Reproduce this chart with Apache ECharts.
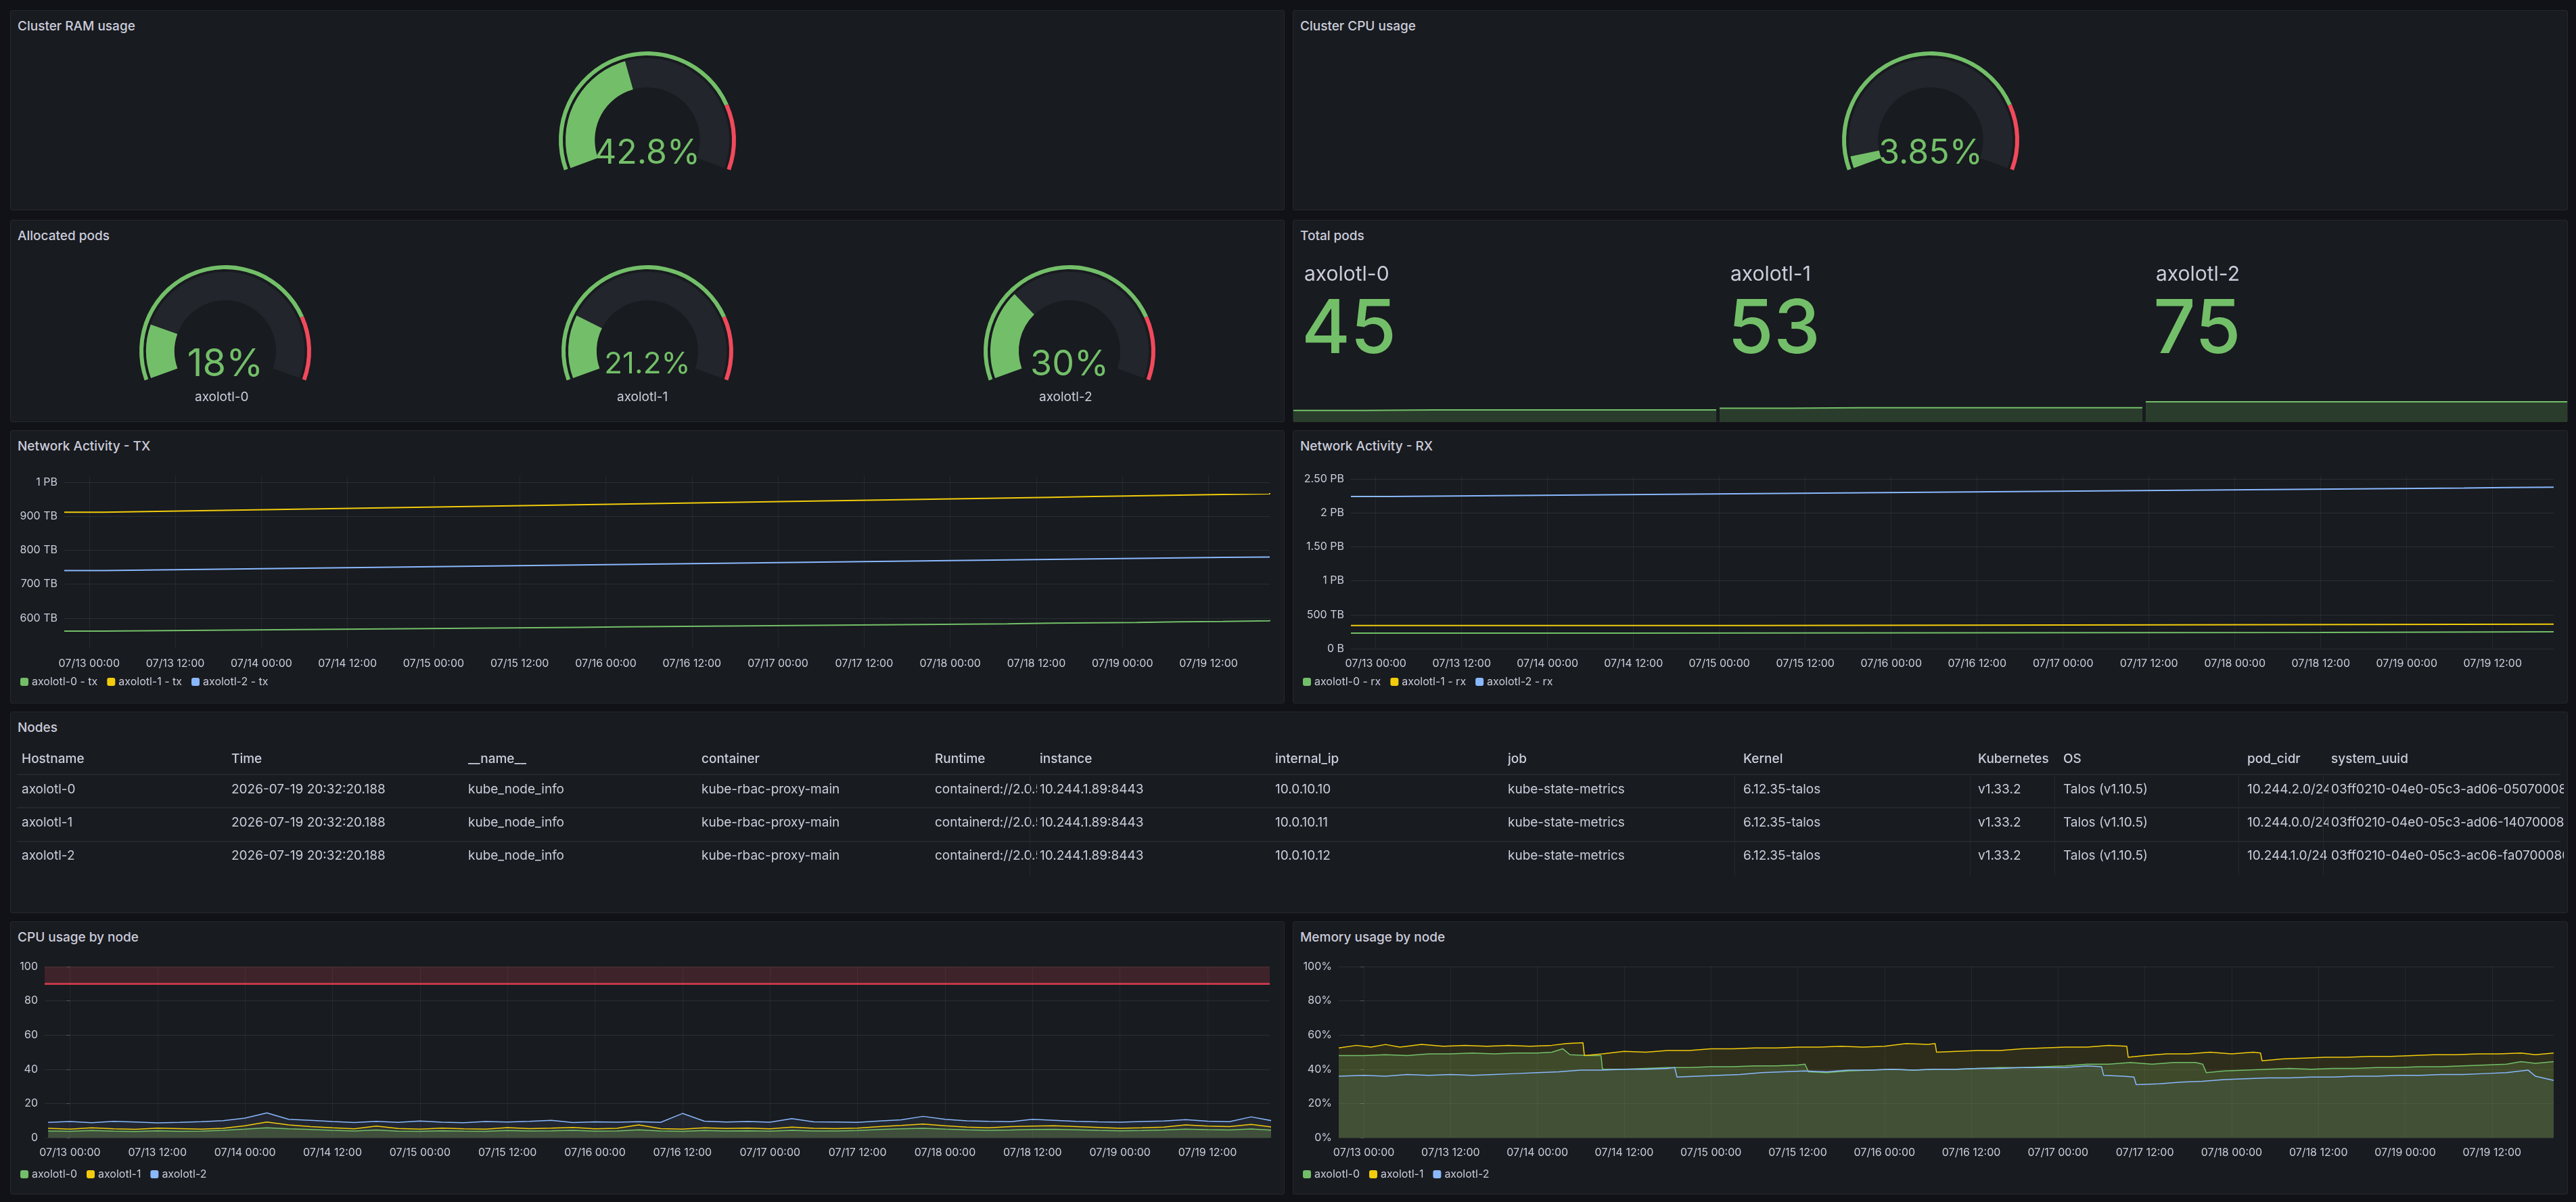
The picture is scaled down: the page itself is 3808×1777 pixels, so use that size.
<!DOCTYPE html>
<html><head><meta charset="utf-8">
<script src="https://cdn.jsdelivr.net/npm/echarts@6/dist/echarts.min.js"></script>
<style>
html,body{margin:0;padding:0;background:#111217;width:3808px;height:1777px;overflow:hidden;font-family:Inter,"Noto Sans",sans-serif;color:#ccccdc}
.panel{position:absolute;background:#181b1f;border:1px solid #24272e;border-radius:3px;box-sizing:border-box}
.title{position:absolute;left:10px;top:11px;font-size:19px;font-weight:500;color:#ccccdc}
#chart{position:absolute;left:0;top:0;width:3808px;height:1777px;z-index:2}
.cell{position:absolute;font-size:19px;white-space:nowrap;overflow:hidden;color:#ccccdc;z-index:3}
.hd{font-weight:500}
.hline{position:absolute;height:2px;background:#24272e;z-index:3}
.vline{position:absolute;width:1px;background:#24272e;z-index:3}
</style></head><body>
<div id="panels"></div>
<div id="chart"></div>
<script>
// ---------- data ----------
const gaugeCluster = [{name:'Cluster RAM usage', value:42.8}, {name:'Cluster CPU usage', value:3.85}];
const nodes = ['axolotl-0','axolotl-1','axolotl-2'];
const allocPods = [18, 21.2, 30];
const totalPods = [45, 53, 75];
const podsSpark0 = [43,45,45,45,45,45,45];
const podsSpark1 = [51,53,53,53,53,53,53];
const podsSpark2 = [75,75,75,75,75,75,74];
const netHours = [-3.47,2,8,14,20,26,32,38,44,50,56,62,68,74,80,86,92,98,104,110,116,122,128,134,140,146,152,158,164.53];
const tx0 = [562,563,564,565,566,567,568,569,570,571,572,573,574,575,576,577,578,579,580,581,582,583,585,586,587,589,590,592,594];
const tx1 = [912,914,916,918,920,922,924,926,928,930,932,934,936,938,940,942,944,946,948,950,952,954,956,958,960,962,964,966,968];
const tx2 = [740,741.5,743,744.5,746,747.5,749,750.5,752,753.5,755,756.5,758,759.5,761,762.5,764,765.5,767,768.5,770,771.5,773,774.5,776,777.5,779,780,781];
const rx2 = [2240,2245,2250,2255,2260,2265,2270,2275,2280,2285,2290,2295,2300,2305,2310,2315,2320,2325,2330,2335,2340,2345,2350,2355,2360,2365,2372,2378,2385];
const rx1 = [[-3.47,342],[51.8,342],[51.8,352],[111,352],[111,362],[164.53,362]];
const rx0 = [[-3.47,230],[34.9,230],[34.9,240],[132,240],[132,250],[164.53,250]];
const txTicks = [600,700,800,900,1000];
const timeTicks = [0,12,24,36,48,60,72,84,96,108,120,132,144,156];
const cpuHours = Array.from({length:57},(_,i)=>-3+3*i);
const cpu0 = [4.0,3.8,4.2,3.9,3.7,4.1,3.8,3.9,4.3,5.0,5.8,5.2,4.8,4.3,4.0,4.5,3.9,3.8,4.1,3.9,3.8,4.2,4.0,4.1,4.3,3.9,4.0,4.6,4.0,3.8,4.2,4.0,4.1,3.9,4.3,4.0,4.0,4.2,4.8,5.2,5.5,5.0,4.6,4.3,4.5,4.8,4.9,4.6,4.3,4.1,4.2,4.5,5.0,4.7,4.5,5.1,4.4];
const cpu1 = [5.5,5.0,5.8,5.2,4.9,5.6,5.3,5.0,5.5,7.0,9.2,7.5,6.5,5.8,5.2,6.8,5.4,5.0,5.6,5.2,5.0,5.9,5.3,5.6,6.0,5.2,5.5,7.5,5.3,5.0,5.8,5.4,5.6,5.2,6.2,5.5,5.3,5.6,6.5,7.2,8.0,7.0,6.2,5.8,6.5,6.8,7.0,6.5,6.0,5.5,5.8,6.2,7.5,6.8,6.5,7.8,6.2];
const cpu2 = [9.0,9.5,8.8,9.6,9.2,8.7,9.0,9.4,10.0,11.5,14.5,10.8,10.2,9.5,8.9,9.6,9.0,9.8,9.1,8.8,9.5,9.2,9.6,10.2,8.9,9.3,9.1,9.4,9.0,14.2,9.7,9.2,9.5,9.1,11.2,9.3,9.2,9.0,9.8,10.5,12.5,10.8,9.9,9.6,9.4,10.8,10.2,9.6,9.3,9.1,9.5,9.8,10.6,9.7,9.4,12.2,9.8];
const mem1 = [[-3.47,52.5],[-1,54],[1,53],[3,54.5],[5,53],[8,54.5],[11,53.5],[14,54],[17,53.5],[20,54],[23,53.5],[26,54],[28,55],[30.3,55.5],[30.5,48],[33,49],[36,50.5],[39,50],[42,51],[45,51],[48,52],[51,52],[54,52.5],[57,52.5],[60,53],[63,53],[66,53.5],[69,53],[72,53.5],[75,55],[78,54.5],[79,55],[79.2,50],[82,50.5],[85,51],[88,51],[91,52],[94,52.5],[97,53],[100,53],[103,54],[105.5,53.5],[105.7,47],[108,48],[111,49],[114,49],[117,50],[120,49],[123,50],[124,49.5],[124.2,45],[127,46],[130,46.5],[133,47],[136,47],[139,47.5],[142,47.5],[145,48],[148,48.5],[151,48.5],[154,49],[157,49],[160,49.5],[162,48.5],[164.53,49.5]];
const mem0 = [[-3.47,48],[0,48],[3,48.5],[6,48],[9,49],[12,49],[15,49.5],[18,49],[21,49.5],[24,49.5],[26,50],[27.5,52],[28.5,48.5],[31,48],[32.8,48],[33,40],[36,40],[39,40.5],[42,41],[45,41],[48,41.5],[51,41.5],[54,42],[57,42],[60,42.5],[61,43],[61.5,38.5],[64,38],[67,39],[70,39.5],[73,40],[76,39.5],[79,40],[82,40],[85,40.5],[88,41],[91,41],[94,41.5],[97,42],[100,43],[103,43],[106,44],[109,43],[112,44],[115,44],[116,43],[116.5,38],[119,39],[122,39.5],[125,40],[128,40.5],[131,40],[134,40.5],[137,40.5],[140,41],[143,41],[146,41.5],[149,41.5],[152,42],[155,42.5],[158,43],[160,44.5],[162,43.5],[164.53,44.5]];
const mem2 = [[-3.47,36],[0,36.5],[3,36],[6,37],[9,36.5],[12,37],[15,36.5],[18,37],[21,37.5],[24,38],[27,38.5],[30,39.5],[33,39.5],[36,40],[39,40],[42,40.5],[43,41],[43.3,35.5],[46,36],[49,36.5],[52,37],[55,38],[58,38.5],[61,39],[64,38.5],[67,39.5],[70,39.5],[73,40],[76,39.5],[79,40],[82,40],[85,40.5],[88,40.5],[91,41],[94,41],[97,41],[100,42],[102,41.5],[102.3,36.5],[105,36],[106.5,35.5],[106.8,31],[110,31.5],[113,32.5],[116,33],[119,34],[122,34.5],[125,35],[128,35],[131,35.5],[134,35.5],[137,36],[140,36],[143,36.5],[146,36.5],[149,37],[152,37],[155,37.5],[158,38],[161,39.5],[162,36],[164.53,33.5]];
const tableHeader = ['Hostname','Time','__name__','container','Runtime','instance','internal_ip','job','Kernel','Kubernetes','OS','pod_cidr','system_uuid'];
const tableRows = [
 ['axolotl-0','2026-07-19 20:32:20.188','kube_node_info','kube-rbac-proxy-main','containerd://2.0.5','10.244.1.89:8443','10.0.10.10','kube-state-metrics','6.12.35-talos','v1.33.2','Talos (v1.10.5)','10.244.2.0/24','03ff0210-04e0-05c3-ad06-050700080009'],
 ['axolotl-1','2026-07-19 20:32:20.188','kube_node_info','kube-rbac-proxy-main','containerd://2.0.5','10.244.1.89:8443','10.0.10.11','kube-state-metrics','6.12.35-talos','v1.33.2','Talos (v1.10.5)','10.244.0.0/24','03ff0210-04e0-05c3-ad06-140700080009'],
 ['axolotl-2','2026-07-19 20:32:20.188','kube_node_info','kube-rbac-proxy-main','containerd://2.0.5','10.244.1.89:8443','10.0.10.12','kube-state-metrics','6.12.35-talos','v1.33.2','Talos (v1.10.5)','10.244.1.0/24','03ff0210-04e0-05c3-ac06-fa0700080009']];

// ---------- layout ----------
const G='#73bf69', Y='#f2cc0c', B='#8ab8ff', R='#f2495c';
const panels = [
 ['Cluster RAM usage',15,15,1884,296],['Cluster CPU usage',1911,15,1885,296],
 ['Allocated pods',15,325,1884,299],['Total pods',1911,325,1885,299],
 ['Network Activity - TX',15,636,1884,404],['Network Activity - RX',1911,636,1885,404],
 ['Nodes',15,1052,3781,298],
 ['CPU usage by node',15,1362,1884,404],['Memory usage by node',1911,1362,1885,404]];
const pd=document.getElementById('panels');
panels.forEach(p=>{const d=document.createElement('div');d.className='panel';
 d.style.cssText=`left:${p[1]}px;top:${p[2]}px;width:${p[3]}px;height:${p[4]}px`;
 d.innerHTML=`<div class="title">${p[0]}</div>`;pd.appendChild(d);});
// table
const colX=[32,342,692,1037,1382,1537,1885,2229,2577,2924,3050,3322,3446,3794];
const rowY=[1110,1155,1204,1253];
function cell(t,x,y,w,cls){const d=document.createElement('div');d.className='cell '+(cls||'');
 d.style.cssText=`left:${x}px;top:${y}px;width:${w}px`;d.textContent=t;document.body.appendChild(d);}
tableHeader.forEach((h,i)=>cell(h,colX[i],rowY[0],colX[i+1]-colX[i]-6,'hd'));
tableRows.forEach((r,j)=>r.forEach((t,i)=>cell(t,colX[i],rowY[j+1],colX[i+1]-colX[i]-4)));
[1144,1193,1243].forEach(y=>{const d=document.createElement('div');d.className='hline';d.style.cssText=`left:25px;top:${y}px;width:3760px`;document.body.appendChild(d);});
[1528,2570,2918,3043,3315,3440].forEach(x=>{const d=document.createElement('div');d.className='vline';d.style.cssText=`left:${x-6}px;top:1146px;height:150px`;document.body.appendChild(d);});

// ---------- chart ----------
const chart=echarts.init(document.getElementById('chart'),null,{renderer:'canvas'});
const txt={color:'#ccccdc',fontSize:16,fontFamily:'Inter'};
function gauge(cx,cy,r,val,fs){
 return [{type:'gauge',center:[cx,cy],radius:r,startAngle:200,endAngle:-20,min:0,max:100,
   axisLine:{lineStyle:{width:6,color:[[0.8,G],[1,R]]}},pointer:{show:false},axisTick:{show:false},splitLine:{show:false},axisLabel:{show:false},detail:{show:false},title:{show:false},data:[{value:0}],silent:true},
  {type:'gauge',center:[cx,cy],radius:r-10,startAngle:200,endAngle:-20,min:0,max:100,
   axisLine:{lineStyle:{width:r*0.33,color:[[1,'#22252b']]}},progress:{show:true,width:r*0.33,itemStyle:{color:G}},
   pointer:{show:false},axisTick:{show:false},splitLine:{show:false},axisLabel:{show:false},title:{show:false},
   detail:{show:true,offsetCenter:[0,20],fontSize:fs,color:G,fontFamily:'Inter',fontWeight:400,formatter:v=>v+'%'},data:[{value:val}],silent:true}];
}
const fmtT=h=>{const d=13+Math.floor(h/24);return `07/${d} ${h%24===0?'00':'12'}:00`;};
function xAx(gi){return {type:'value',gridIndex:gi,min:-3.47,max:164.53,
 axisLine:{show:false},axisTick:{show:false,customValues:timeTicks},
 axisLabel:{customValues:timeTicks,formatter:fmtT,...txt,margin:14},
 splitLine:{show:true,lineStyle:{color:'rgba(204,204,220,0.07)'}}};}
function yAx(gi,o){return Object.assign({type:'value',gridIndex:gi,axisLine:{show:false},
 splitLine:{show:true,lineStyle:{color:'rgba(204,204,220,0.1)'}},axisLabel:{...txt,margin:10}},o);}
const zip=(h,v)=>v.map((y,i)=>[h[i],y]);
function ln(name,gi,data,color,extra){return Object.assign({type:'line',name,xAxisIndex:gi,yAxisIndex:gi,data,showSymbol:false,
 lineStyle:{width:2,color},itemStyle:{color},animation:false},extra||{});}
function leg(x,y,names){return {left:x,top:y,data:names,icon:'roundRect',itemWidth:12,itemHeight:12,itemGap:14,textStyle:{...txt,fontSize:16},padding:0,selectedMode:false};}

const series=[];
series.push(...gauge(957,207,131,gaugeCluster[0].value,50));
series.push(...gauge(2854,207,131,gaugeCluster[1].value,50));
[333,957,1581].forEach((x,i)=>series.push(...gauge(x,519,127,allocPods[i],[56,44,52][i])));

const grids=[{left:95,width:1782,top:703,height:256},{left:1997,width:1778,top:703,height:256},
 {left:66,width:1811,top:1429,height:253},{left:1979,width:1796,top:1429,height:253},
 {left:1912,width:625,top:560,height:64},{left:2542,width:625,top:560,height:64},{left:3172,width:623,top:560,height:64}];
const xAxis=[xAx(0),xAx(1),xAx(2),xAx(3)];
const yAxis=[
 yAx(0,{min:510,max:1020,axisTick:{show:false,customValues:txTicks},axisLabel:{...txt,margin:10,customValues:txTicks,formatter:v=>v>=1000?(v/1000)+' PB':v+' TB'}}),
 yAx(1,{min:0,max:2550,axisTick:{show:false,customValues:[0,500,1000,1500,2000,2500]},axisLabel:{...txt,margin:10,customValues:[0,500,1000,1500,2000,2500],formatter:v=>v===0?'0 B':v<1000?v+' TB':(v%1000===0?(v/1000):(v/1000).toFixed(2))+' PB'}}),
 yAx(2,{min:0,max:100,interval:20}),
 yAx(3,{min:0,max:100,interval:20,axisLabel:{...txt,margin:10,formatter:'{value}%'}})];
[4,5,6].forEach(g=>{xAxis.push({type:'category',gridIndex:g,show:false,boundaryGap:false,data:podsSpark0.map((_,i)=>i)});
 yAxis.push({type:'value',gridIndex:g,show:false,min:0,max:160});});
const tx=['axolotl-0 - tx','axolotl-1 - tx','axolotl-2 - tx'], rx=['axolotl-0 - rx','axolotl-1 - rx','axolotl-2 - rx'];
series.push(ln(tx[0],0,zip(netHours,tx0),G,{step:'end'}),ln(tx[1],0,zip(netHours,tx1),Y,{step:'end'}),ln(tx[2],0,zip(netHours,tx2),B,{step:'end'}));
series.push(ln(rx[0],1,rx0,G),ln(rx[1],1,rx1,Y),ln(rx[2],1,zip(netHours,rx2),B,{step:'end'}));
const area=(c,o)=>({areaStyle:{color:c,opacity:o}});
series.push(ln(nodes[0],2,zip(cpuHours,cpu0),G,{...area(G,0.2),lineStyle:{width:1.5,color:G}}),
 ln(nodes[1],2,zip(cpuHours,cpu1),Y,{...area(Y,0.08),lineStyle:{width:1.5,color:Y}}),
 ln(nodes[2],2,zip(cpuHours,cpu2),B,{...area(B,0.08),lineStyle:{width:1.5,color:B},
  markArea:{silent:true,itemStyle:{color:'rgba(242,73,92,0.18)'},data:[[{yAxis:90},{yAxis:100}]]},
  markLine:{silent:true,symbol:'none',label:{show:false},lineStyle:{color:'#c4394a',width:3,type:'solid'},data:[{yAxis:90}]}}));
series.push(ln(nodes[0],3,mem0,G,{...area(G,0.2),lineStyle:{width:1.5,color:G}}),
 ln(nodes[1],3,mem1,Y,{...area(Y,0.1),lineStyle:{width:1.5,color:Y}}),
 ln(nodes[2],3,mem2,B,{...area(B,0.06),lineStyle:{width:1.5,color:B}}));
[podsSpark0,podsSpark1,podsSpark2].forEach((d,i)=>series.push({type:'line',xAxisIndex:4+i,yAxisIndex:4+i,data:d,step:'end',showSymbol:false,
 lineStyle:{color:G,width:2},areaStyle:{color:'#2a3d2c',opacity:1},silent:true,animation:false}));

const graphic=[];
[333,957,1581].forEach((x,i)=>graphic.push({type:'text',left:x-45,top:578,style:{text:nodes[i],fill:'#ccccdc',font:'19px Inter',align:'center'}}));
[1928,2558,3187].forEach((x,i)=>{
 graphic.push({type:'text',left:x,top:391,style:{text:nodes[i],fill:'#ccccdc',font:'30px Inter'}});
 graphic.push({type:'text',left:x-4,top:434,style:{text:String(totalPods[i]),fill:G,font:'500 110px Inter'}});});

chart.setOption({animation:false,grid:grids,xAxis,yAxis,series,graphic,
 legend:[leg(30,1000,tx),leg(1926,1000,rx),leg(30,1728,nodes),leg(1926,1728,nodes)]});
</script></body></html>
